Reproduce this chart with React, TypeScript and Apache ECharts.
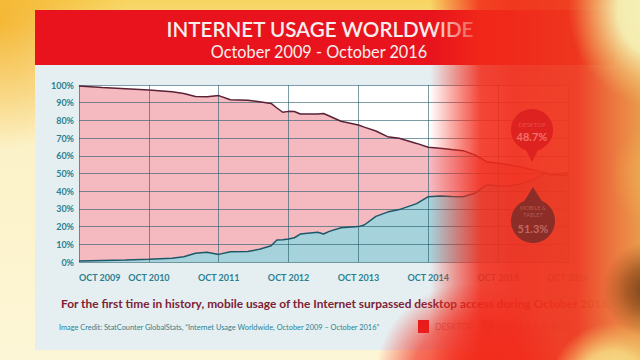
import React, { useEffect, useRef } from "react";
import * as echarts from "echarts";

// months since Oct 2009
const months = [0, 4, 8, 12, 16, 18, 20, 22, 24, 26, 29, 31, 33, 34, 35, 36, 37, 38, 41, 42, 43, 45, 48, 49, 51, 53, 55, 58, 60, 62, 64, 66, 68, 70, 72, 74, 76, 78, 80, 81, 84];
const desktop = [99.5, 98.6, 97.9, 97.2, 96.2, 95.2, 93.5, 93.4, 94.0, 91.7, 91.4, 90.6, 89.6, 87.0, 84.6, 85.1, 85.0, 83.6, 83.6, 83.9, 82.5, 79.5, 77.4, 76.2, 74.0, 70.8, 69.9, 67.0, 64.8, 64.2, 63.5, 62.9, 60.5, 56.7, 55.8, 54.8, 53.6, 52.0, 50.5, 49.5, 49.0];
const mobile = [0.5, 0.9, 1.2, 1.6, 2.1, 3.0, 4.9, 5.5, 4.3, 5.8, 5.9, 7.2, 9.2, 12.4, 12.6, 13.0, 13.7, 15.8, 16.8, 15.8, 17.3, 19.4, 20.0, 20.9, 25.8, 28.2, 29.6, 33.0, 36.9, 37.3, 37.0, 36.9, 38.8, 43.5, 43.1, 43.0, 44.2, 46.3, 50.2, 49.2, 50.6];
const yearLabels = ["OCT 2009", "OCT 2010", "OCT 2011", "OCT 2012", "OCT 2013", "OCT 2014", "OCT 2015", "OCT 2016"];

const title = "INTERNET USAGE WORLDWIDE";
const subtitle = "October 2009 - October 2016";
const caption = "For the first time in history, mobile usage of the Internet surpassed desktop access during October 2016.";
const credit = "Image Credit: StatCounter GlobalStats, \u201CInternet Usage Worldwide, October 2009 \u2013 October 2016\u201D";
const legendNames = ["DESKTOP", "MOBILE & TABLET"];
const desktopLast = "48.7%";
const mobileLast = "51.3%";

const FONT = "Lato, 'Open Sans', sans-serif";

export default function App() {
  const ref = useRef<HTMLDivElement>(null);
  useEffect(() => {
    const chart = echarts.init(ref.current!, null, { renderer: "svg" });
    const dPts = months.map((m, i) => [m, desktop[i]]);
    const mPts = months.map((m, i) => [m, mobile[i]]);
    const labelStyle = { color: "#2b7f8e", fontSize: 9, fontWeight: "bold" as const, fontFamily: FONT };
    const grid = { color: "rgba(35,90,105,0.6)", width: 1 };
    const rg = (stops: [number, string][]) =>
      new echarts.graphic.RadialGradient(0.5, 0.5, 0.5, stops.map(([o, c]) => ({ offset: o, color: c })));
    chart.setOption({
      animation: false,
      backgroundColor: "#fcf3cf",
      grid: { left: 79, right: 72, top: 85, bottom: 98, show: true, backgroundColor: "#ffffff", borderWidth: 0 },
      xAxis: {
        type: "value", min: 0, max: 84, interval: 12, z: 3,
        axisLine: { show: false }, axisTick: { show: false },
        splitLine: { show: true, lineStyle: grid },
        axisLabel: { ...labelStyle, margin: 11, alignMinLabel: "left", formatter: (v: number) => yearLabels[Math.round(v / 12)] },
      },
      yAxis: {
        type: "value", min: 0, max: 100, interval: 10, z: 3,
        axisLine: { show: false }, axisTick: { show: false },
        splitLine: { show: true, lineStyle: grid },
        axisLabel: { ...labelStyle, margin: 5, formatter: "{value}%" },
      },
      series: [
        { type: "line", data: dPts, showSymbol: false, z: 1, lineStyle: { width: 0 }, areaStyle: { color: "#f5b9c0", opacity: 1 } },
        { type: "line", data: mPts, showSymbol: false, z: 1, lineStyle: { width: 0 }, areaStyle: { color: "#a6d2dc", opacity: 1 } },
        { type: "line", data: dPts, showSymbol: false, z: 5, lineStyle: { width: 1.5, color: "#5b2135" } },
        { type: "line", data: mPts, showSymbol: false, z: 5, lineStyle: { width: 1.5, color: "#1c5868" } },
      ],
      graphic: [
        // background
        { type: "rect", z: -20, shape: { x: 0, y: 0, width: 640, height: 360 },
          style: { fill: new echarts.graphic.LinearGradient(0, 0, 0, 1, [
            { offset: 0, color: "#f7d45e" }, { offset: 0.12, color: "#fae9a8" }, { offset: 0.4, color: "#fcf2c8" }, { offset: 1, color: "#fdf6d6" }]) } },
        { type: "circle", z: -19, shape: { cx: 0, cy: 20, r: 130 }, style: { fill: rg([[0, "rgba(244,176,40,0.85)"], [1, "rgba(244,176,40,0)"]]) } },
        // card
        { type: "rect", z: -15, shape: { x: 35, y: 65, width: 580, height: 285 }, style: { fill: "#e5eff2" } },
        { type: "rect", z: -15, shape: { x: 35, y: 10, width: 580, height: 55 }, style: { fill: "#e8131c" } },
        { type: "text", z: 10, x: 320, y: 29, style: { text: title, fill: "#f6eeee", fontSize: 20.6, fontWeight: 600, fontFamily: FONT, textAlign: "center", textVerticalAlign: "middle" } },
        { type: "text", z: 10, x: 319, y: 51, style: { text: subtitle, fill: "#f6eeee", fontSize: 16.3, fontFamily: FONT, textAlign: "center", textVerticalAlign: "middle" } },
        { type: "text", z: 10, x: 61, y: 303, style: { text: caption, fill: "#7c2236", fontSize: 11.9, fontWeight: "bold", fontFamily: FONT, textVerticalAlign: "middle" } },
        { type: "text", z: 10, x: 59, y: 327, style: { text: credit, fill: "#2d7f8d", fontSize: 7.4, fontFamily: FONT, textVerticalAlign: "middle" } },
        // legend
        { type: "rect", z: 10, shape: { x: 418, y: 320, width: 11, height: 13 }, style: { fill: "#e0141e" } },
        { type: "text", z: 10, x: 435, y: 327, style: { text: legendNames[0], fill: "#a09aa0", fontSize: 8.5, fontFamily: FONT, textVerticalAlign: "middle" } },
        { type: "rect", z: 10, shape: { x: 482, y: 320, width: 11, height: 13 }, style: { fill: "#8ec5d2" } },
        { type: "text", z: 10, x: 499, y: 327, style: { text: legendNames[1], fill: "#a09aa0", fontSize: 8.5, fontFamily: FONT, textVerticalAlign: "middle" } },
        // red blur overlay
        { type: "rect", z: 50, shape: { x: 430, y: 0, width: 210, height: 360 },
          style: { fill: new echarts.graphic.LinearGradient(0, 0, 1, 0, [
            { offset: 0, color: "rgba(242,40,25,0)" }, { offset: 0.12, color: "rgba(242,40,25,0.45)" },
            { offset: 0.24, color: "rgba(242,42,25,0.87)" }, { offset: 0.4, color: "rgba(240,44,26,0.93)" },
            { offset: 0.7, color: "rgba(238,56,30,0.95)" }, { offset: 0.86, color: "rgba(236,110,55,0.96)" },
            { offset: 1, color: "rgba(232,150,70,0.96)" }]) } },
        { type: "circle", z: 51, shape: { cx: 470, cy: 378, r: 95 }, style: { fill: rg([[0, "rgba(242,40,25,0.97)"], [0.6, "rgba(242,40,25,0.65)"], [1, "rgba(242,40,25,0)"]]) } },
        { type: "circle", z: 52, shape: { cx: 668, cy: 10, r: 100 }, style: { fill: rg([[0, "rgba(246,246,190,1)"], [0.5, "rgba(245,240,180,0.95)"], [0.75, "rgba(244,210,130,0.5)"], [1, "rgba(244,190,110,0)"]]) } },
        { type: "circle", z: 52, shape: { cx: 665, cy: 175, r: 55 }, style: { fill: rg([[0, "rgba(240,190,90,0.9)"], [1, "rgba(240,170,80,0)"]]) } },
        { type: "circle", z: 53, shape: { cx: 650, cy: 290, r: 48 }, style: { fill: rg([[0, "rgba(85,40,10,0.85)"], [0.5, "rgba(120,55,15,0.55)"], [1, "rgba(150,70,20,0)"]]) } },
        { type: "circle", z: 54, shape: { cx: 612, cy: 385, r: 62 }, style: { fill: rg([[0, "rgba(248,238,160,1)"], [0.55, "rgba(246,220,130,0.85)"], [1, "rgba(245,200,100,0)"]]) } },
        // callout bubbles
        { type: "polygon", z: 60, shape: { points: [[524, 146], [540, 146], [532, 162]] }, style: { fill: "#de2220" } },
        { type: "circle", z: 60, shape: { cx: 532, cy: 130, r: 21 }, style: { fill: "#de2220" } },
        { type: "text", z: 61, x: 532, y: 124, style: { text: legendNames[0], fill: "rgba(250,150,140,0.4)", fontSize: 6, fontFamily: FONT, textAlign: "center", textVerticalAlign: "middle" } },
        { type: "text", z: 61, x: 532, y: 136, style: { text: desktopLast, fill: "rgba(250,150,135,0.7)", fontSize: 11, fontWeight: "bold", fontFamily: FONT, textAlign: "center", textVerticalAlign: "middle" } },
        { type: "polygon", z: 60, shape: { points: [[520, 208], [546, 208], [533, 187]] }, style: { fill: "#8c2d28" } },
        { type: "circle", z: 60, shape: { cx: 533, cy: 221, r: 22 }, style: { fill: "#8c2d28" } },
        { type: "text", z: 61, x: 533, y: 208, style: { text: "MOBILE &", fill: "rgba(210,130,120,0.55)", fontSize: 5.5, fontFamily: FONT, textAlign: "center", textVerticalAlign: "middle" } },
        { type: "text", z: 61, x: 533, y: 215, style: { text: "TABLET", fill: "rgba(210,130,120,0.55)", fontSize: 5.5, fontFamily: FONT, textAlign: "center", textVerticalAlign: "middle" } },
        { type: "text", z: 61, x: 533, y: 228, style: { text: mobileLast, fill: "rgba(210,125,115,0.75)", fontSize: 11, fontWeight: "bold", fontFamily: FONT, textAlign: "center", textVerticalAlign: "middle" } },
      ],
    });
    return () => chart.dispose();
  }, []);
  return <div ref={ref} style={{ position: "absolute", left: 0, top: 0, width: 640, height: 360 }} />;
}
